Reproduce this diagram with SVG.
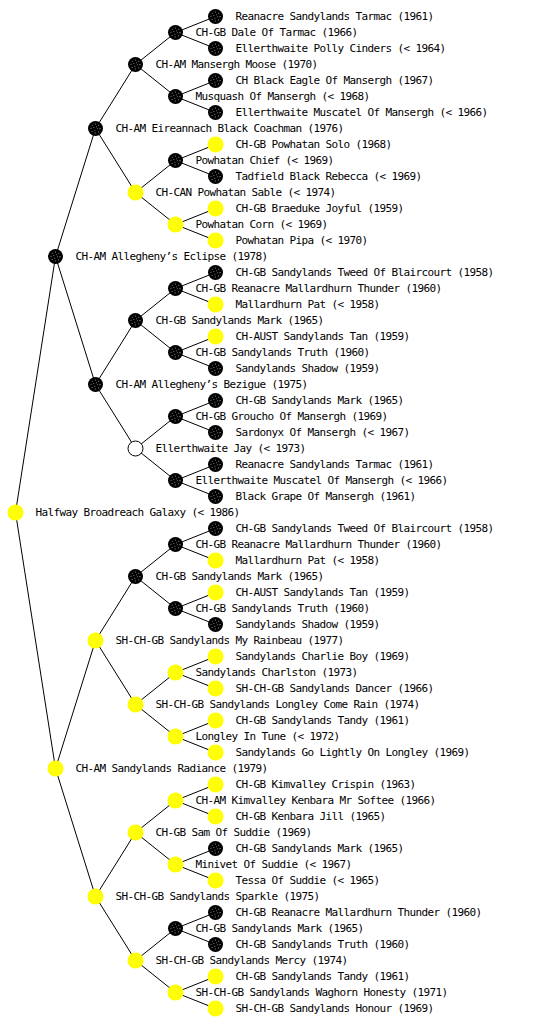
<svg xmlns="http://www.w3.org/2000/svg" xmlns:xlink="http://www.w3.org/1999/xlink" width="560" height="1024" viewBox="0 0 560 1024">
<style>
text{font-family:"DejaVu Sans Mono","Liberation Mono",monospace;font-size:11px;letter-spacing:-0.62px;fill:#000}
.e{fill:none;stroke:#000;stroke-width:1}
</style>
<defs>
<g id="B"><circle r="7.5" fill="#000"/><circle r="4.5" fill="none" stroke="#fff" stroke-width="0.8" stroke-dasharray="0.8 2.6"/><circle r="2" fill="none" stroke="#fff" stroke-width="0.7" stroke-dasharray="0.7 2.4"/></g>
<g id="Y"><circle r="8" fill="#ffff00"/><circle r="4" fill="none" stroke="#f0f0a0" stroke-width="0.8" stroke-dasharray="1 3"/></g>
<g id="W"><circle r="7.5" fill="#fff" stroke="#000" stroke-width="1"/></g>
</defs>
<rect width="560" height="1024" fill="#fff"/>
<g id="connectors" class="e">
<path d="M55.5 256.5L15.5 512.5L55.5 768.5"/>
<path d="M95.5 128.5L55.5 256.5L95.5 384.5"/>
<path d="M95.5 640.5L55.5 768.5L95.5 896.5"/>
<path d="M135.5 64.5L95.5 128.5L135.5 192.5"/>
<path d="M135.5 320.5L95.5 384.5L135.5 448.5"/>
<path d="M135.5 576.5L95.5 640.5L135.5 704.5"/>
<path d="M135.5 832.5L95.5 896.5L135.5 960.5"/>
<path d="M175.5 32.5L135.5 64.5L175.5 96.5"/>
<path d="M175.5 160.5L135.5 192.5L175.5 224.5"/>
<path d="M175.5 288.5L135.5 320.5L175.5 352.5"/>
<path d="M175.5 416.5L135.5 448.5L175.5 480.5"/>
<path d="M175.5 544.5L135.5 576.5L175.5 608.5"/>
<path d="M175.5 672.5L135.5 704.5L175.5 736.5"/>
<path d="M175.5 800.5L135.5 832.5L175.5 864.5"/>
<path d="M175.5 928.5L135.5 960.5L175.5 992.5"/>
<path d="M215.5 16.5L175.5 32.5L215.5 48.5"/>
<path d="M215.5 80.5L175.5 96.5L215.5 112.5"/>
<path d="M215.5 144.5L175.5 160.5L215.5 176.5"/>
<path d="M215.5 208.5L175.5 224.5L215.5 240.5"/>
<path d="M215.5 272.5L175.5 288.5L215.5 304.5"/>
<path d="M215.5 336.5L175.5 352.5L215.5 368.5"/>
<path d="M215.5 400.5L175.5 416.5L215.5 432.5"/>
<path d="M215.5 464.5L175.5 480.5L215.5 496.5"/>
<path d="M215.5 528.5L175.5 544.5L215.5 560.5"/>
<path d="M215.5 592.5L175.5 608.5L215.5 624.5"/>
<path d="M215.5 656.5L175.5 672.5L215.5 688.5"/>
<path d="M215.5 720.5L175.5 736.5L215.5 752.5"/>
<path d="M215.5 784.5L175.5 800.5L215.5 816.5"/>
<path d="M215.5 848.5L175.5 864.5L215.5 880.5"/>
<path d="M215.5 912.5L175.5 928.5L215.5 944.5"/>
<path d="M215.5 976.5L175.5 992.5L215.5 1008.5"/>
</g>
<g id="n1" transform="translate(215.5,16.5)"><use xlink:href="#B" href="#B"/><text x="20" y="3.5">Reanacre Sandylands Tarmac (1961)</text></g>
<g id="n2" transform="translate(175.5,32.5)"><use xlink:href="#B" href="#B"/><text x="20" y="3.5">CH-GB Dale Of Tarmac (1966)</text></g>
<g id="n3" transform="translate(215.5,48.5)"><use xlink:href="#B" href="#B"/><text x="20" y="3.5">Ellerthwaite Polly Cinders (&lt; 1964)</text></g>
<g id="n4" transform="translate(135.5,64.5)"><use xlink:href="#B" href="#B"/><text x="20" y="3.5">CH-AM Mansergh Moose (1970)</text></g>
<g id="n5" transform="translate(215.5,80.5)"><use xlink:href="#B" href="#B"/><text x="20" y="3.5">CH Black Eagle Of Mansergh (1967)</text></g>
<g id="n6" transform="translate(175.5,96.5)"><use xlink:href="#B" href="#B"/><text x="20" y="3.5">Musquash Of Mansergh (&lt; 1968)</text></g>
<g id="n7" transform="translate(215.5,112.5)"><use xlink:href="#B" href="#B"/><text x="20" y="3.5">Ellerthwaite Muscatel Of Mansergh (&lt; 1966)</text></g>
<g id="n8" transform="translate(95.5,128.5)"><use xlink:href="#B" href="#B"/><text x="20" y="3.5">CH-AM Eireannach Black Coachman (1976)</text></g>
<g id="n9" transform="translate(215.5,144.5)"><use xlink:href="#Y" href="#Y"/><text x="20" y="3.5">CH-GB Powhatan Solo (1968)</text></g>
<g id="n10" transform="translate(175.5,160.5)"><use xlink:href="#B" href="#B"/><text x="20" y="3.5">Powhatan Chief (&lt; 1969)</text></g>
<g id="n11" transform="translate(215.5,176.5)"><use xlink:href="#B" href="#B"/><text x="20" y="3.5">Tadfield Black Rebecca (&lt; 1969)</text></g>
<g id="n12" transform="translate(135.5,192.5)"><use xlink:href="#Y" href="#Y"/><text x="20" y="3.5">CH-CAN Powhatan Sable (&lt; 1974)</text></g>
<g id="n13" transform="translate(215.5,208.5)"><use xlink:href="#Y" href="#Y"/><text x="20" y="3.5">CH-GB Braeduke Joyful (1959)</text></g>
<g id="n14" transform="translate(175.5,224.5)"><use xlink:href="#Y" href="#Y"/><text x="20" y="3.5">Powhatan Corn (&lt; 1969)</text></g>
<g id="n15" transform="translate(215.5,240.5)"><use xlink:href="#Y" href="#Y"/><text x="20" y="3.5">Powhatan Pipa (&lt; 1970)</text></g>
<g id="n16" transform="translate(55.5,256.5)"><use xlink:href="#B" href="#B"/><text x="20" y="3.5">CH-AM Allegheny’s Eclipse (1978)</text></g>
<g id="n17" transform="translate(215.5,272.5)"><use xlink:href="#B" href="#B"/><text x="20" y="3.5">CH-GB Sandylands Tweed Of Blaircourt (1958)</text></g>
<g id="n18" transform="translate(175.5,288.5)"><use xlink:href="#B" href="#B"/><text x="20" y="3.5">CH-GB Reanacre Mallardhurn Thunder (1960)</text></g>
<g id="n19" transform="translate(215.5,304.5)"><use xlink:href="#Y" href="#Y"/><text x="20" y="3.5">Mallardhurn Pat (&lt; 1958)</text></g>
<g id="n20" transform="translate(135.5,320.5)"><use xlink:href="#B" href="#B"/><text x="20" y="3.5">CH-GB Sandylands Mark (1965)</text></g>
<g id="n21" transform="translate(215.5,336.5)"><use xlink:href="#Y" href="#Y"/><text x="20" y="3.5">CH-AUST Sandylands Tan (1959)</text></g>
<g id="n22" transform="translate(175.5,352.5)"><use xlink:href="#B" href="#B"/><text x="20" y="3.5">CH-GB Sandylands Truth (1960)</text></g>
<g id="n23" transform="translate(215.5,368.5)"><use xlink:href="#B" href="#B"/><text x="20" y="3.5">Sandylands Shadow (1959)</text></g>
<g id="n24" transform="translate(95.5,384.5)"><use xlink:href="#B" href="#B"/><text x="20" y="3.5">CH-AM Allegheny’s Bezigue (1975)</text></g>
<g id="n25" transform="translate(215.5,400.5)"><use xlink:href="#B" href="#B"/><text x="20" y="3.5">CH-GB Sandylands Mark (1965)</text></g>
<g id="n26" transform="translate(175.5,416.5)"><use xlink:href="#B" href="#B"/><text x="20" y="3.5">CH-GB Groucho Of Mansergh (1969)</text></g>
<g id="n27" transform="translate(215.5,432.5)"><use xlink:href="#B" href="#B"/><text x="20" y="3.5">Sardonyx Of Mansergh (&lt; 1967)</text></g>
<g id="n28" transform="translate(135.5,448.5)"><use xlink:href="#W" href="#W"/><text x="20" y="3.5">Ellerthwaite Jay (&lt; 1973)</text></g>
<g id="n29" transform="translate(215.5,464.5)"><use xlink:href="#B" href="#B"/><text x="20" y="3.5">Reanacre Sandylands Tarmac (1961)</text></g>
<g id="n30" transform="translate(175.5,480.5)"><use xlink:href="#B" href="#B"/><text x="20" y="3.5">Ellerthwaite Muscatel Of Mansergh (&lt; 1966)</text></g>
<g id="n31" transform="translate(215.5,496.5)"><use xlink:href="#B" href="#B"/><text x="20" y="3.5">Black Grape Of Mansergh (1961)</text></g>
<g id="n32" transform="translate(15.5,512.5)"><use xlink:href="#Y" href="#Y"/><text x="20" y="3.5">Halfway Broadreach Galaxy (&lt; 1986)</text></g>
<g id="n33" transform="translate(215.5,528.5)"><use xlink:href="#B" href="#B"/><text x="20" y="3.5">CH-GB Sandylands Tweed Of Blaircourt (1958)</text></g>
<g id="n34" transform="translate(175.5,544.5)"><use xlink:href="#B" href="#B"/><text x="20" y="3.5">CH-GB Reanacre Mallardhurn Thunder (1960)</text></g>
<g id="n35" transform="translate(215.5,560.5)"><use xlink:href="#Y" href="#Y"/><text x="20" y="3.5">Mallardhurn Pat (&lt; 1958)</text></g>
<g id="n36" transform="translate(135.5,576.5)"><use xlink:href="#B" href="#B"/><text x="20" y="3.5">CH-GB Sandylands Mark (1965)</text></g>
<g id="n37" transform="translate(215.5,592.5)"><use xlink:href="#Y" href="#Y"/><text x="20" y="3.5">CH-AUST Sandylands Tan (1959)</text></g>
<g id="n38" transform="translate(175.5,608.5)"><use xlink:href="#B" href="#B"/><text x="20" y="3.5">CH-GB Sandylands Truth (1960)</text></g>
<g id="n39" transform="translate(215.5,624.5)"><use xlink:href="#B" href="#B"/><text x="20" y="3.5">Sandylands Shadow (1959)</text></g>
<g id="n40" transform="translate(95.5,640.5)"><use xlink:href="#Y" href="#Y"/><text x="20" y="3.5">SH-CH-GB Sandylands My Rainbeau (1977)</text></g>
<g id="n41" transform="translate(215.5,656.5)"><use xlink:href="#Y" href="#Y"/><text x="20" y="3.5">Sandylands Charlie Boy (1969)</text></g>
<g id="n42" transform="translate(175.5,672.5)"><use xlink:href="#Y" href="#Y"/><text x="20" y="3.5">Sandylands Charlston (1973)</text></g>
<g id="n43" transform="translate(215.5,688.5)"><use xlink:href="#Y" href="#Y"/><text x="20" y="3.5">SH-CH-GB Sandylands Dancer (1966)</text></g>
<g id="n44" transform="translate(135.5,704.5)"><use xlink:href="#Y" href="#Y"/><text x="20" y="3.5">SH-CH-GB Sandylands Longley Come Rain (1974)</text></g>
<g id="n45" transform="translate(215.5,720.5)"><use xlink:href="#Y" href="#Y"/><text x="20" y="3.5">CH-GB Sandylands Tandy (1961)</text></g>
<g id="n46" transform="translate(175.5,736.5)"><use xlink:href="#Y" href="#Y"/><text x="20" y="3.5">Longley In Tune (&lt; 1972)</text></g>
<g id="n47" transform="translate(215.5,752.5)"><use xlink:href="#Y" href="#Y"/><text x="20" y="3.5">Sandylands Go Lightly On Longley (1969)</text></g>
<g id="n48" transform="translate(55.5,768.5)"><use xlink:href="#Y" href="#Y"/><text x="20" y="3.5">CH-AM Sandylands Radiance (1979)</text></g>
<g id="n49" transform="translate(215.5,784.5)"><use xlink:href="#Y" href="#Y"/><text x="20" y="3.5">CH-GB Kimvalley Crispin (1963)</text></g>
<g id="n50" transform="translate(175.5,800.5)"><use xlink:href="#Y" href="#Y"/><text x="20" y="3.5">CH-AM Kimvalley Kenbara Mr Softee (1966)</text></g>
<g id="n51" transform="translate(215.5,816.5)"><use xlink:href="#Y" href="#Y"/><text x="20" y="3.5">CH-GB Kenbara Jill (1965)</text></g>
<g id="n52" transform="translate(135.5,832.5)"><use xlink:href="#Y" href="#Y"/><text x="20" y="3.5">CH-GB Sam Of Suddie (1969)</text></g>
<g id="n53" transform="translate(215.5,848.5)"><use xlink:href="#B" href="#B"/><text x="20" y="3.5">CH-GB Sandylands Mark (1965)</text></g>
<g id="n54" transform="translate(175.5,864.5)"><use xlink:href="#Y" href="#Y"/><text x="20" y="3.5">Minivet Of Suddie (&lt; 1967)</text></g>
<g id="n55" transform="translate(215.5,880.5)"><use xlink:href="#Y" href="#Y"/><text x="20" y="3.5">Tessa Of Suddie (&lt; 1965)</text></g>
<g id="n56" transform="translate(95.5,896.5)"><use xlink:href="#Y" href="#Y"/><text x="20" y="3.5">SH-CH-GB Sandylands Sparkle (1975)</text></g>
<g id="n57" transform="translate(215.5,912.5)"><use xlink:href="#B" href="#B"/><text x="20" y="3.5">CH-GB Reanacre Mallardhurn Thunder (1960)</text></g>
<g id="n58" transform="translate(175.5,928.5)"><use xlink:href="#B" href="#B"/><text x="20" y="3.5">CH-GB Sandylands Mark (1965)</text></g>
<g id="n59" transform="translate(215.5,944.5)"><use xlink:href="#B" href="#B"/><text x="20" y="3.5">CH-GB Sandylands Truth (1960)</text></g>
<g id="n60" transform="translate(135.5,960.5)"><use xlink:href="#Y" href="#Y"/><text x="20" y="3.5">SH-CH-GB Sandylands Mercy (1974)</text></g>
<g id="n61" transform="translate(215.5,976.5)"><use xlink:href="#Y" href="#Y"/><text x="20" y="3.5">CH-GB Sandylands Tandy (1961)</text></g>
<g id="n62" transform="translate(175.5,992.5)"><use xlink:href="#Y" href="#Y"/><text x="20" y="3.5">SH-CH-GB Sandylands Waghorn Honesty (1971)</text></g>
<g id="n63" transform="translate(215.5,1008.5)"><use xlink:href="#Y" href="#Y"/><text x="20" y="3.5">SH-CH-GB Sandylands Honour (1969)</text></g>
</svg>
